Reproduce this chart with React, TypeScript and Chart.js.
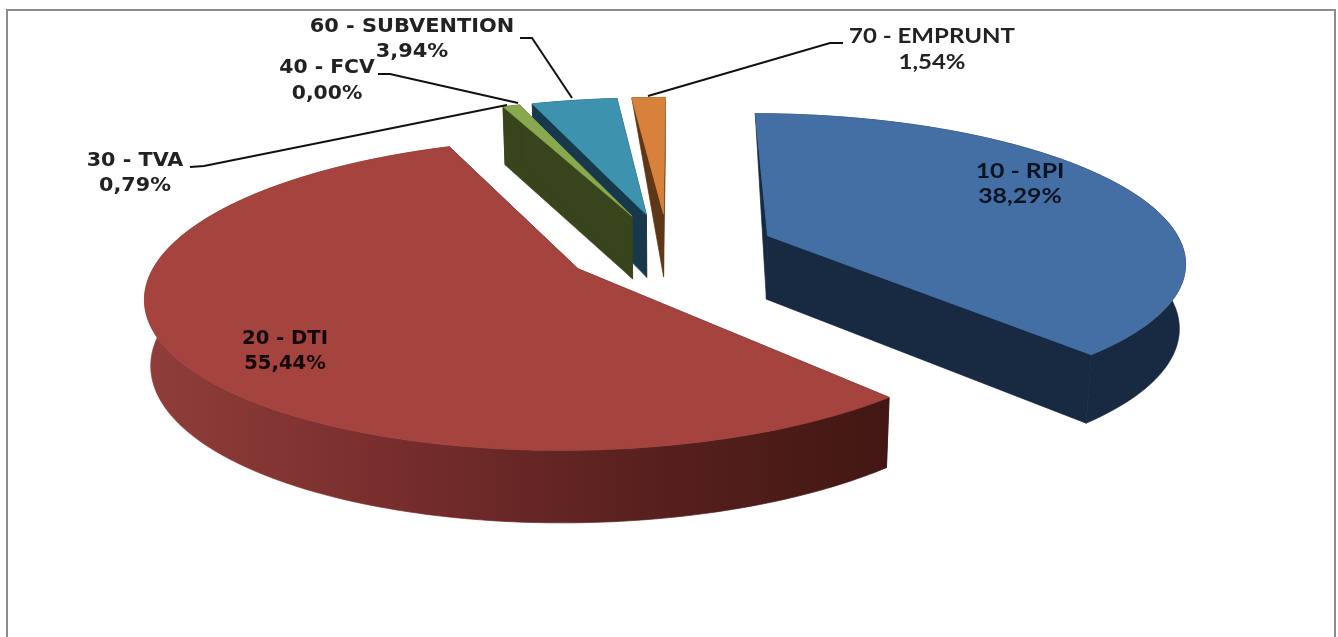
import React, { useEffect, useRef } from "react";
import { Chart, registerables } from "chart.js";

Chart.register(...registerables);

const categories = ["10 - RPI", "20 - DTI", "30 - TVA", "40 - FCV", "60 - SUBVENTION", "70 - EMPRUNT"];
const shares = [38.29, 55.44, 0.79, 0.0, 3.94, 1.54];
const topColors = ["#446fa5", "#a5433f", "#8aa94f", "#7f9a45", "#3d92ae", "#d8813b"];
const wallColors = ["#182a42", "#5e2220", "#38441c", "#38441c", "#17394b", "#5e3716"];
const explode = [52, 50, 50, 50, 50, 50];
const taperedBack = [true, false, false, false, false, true];

// Projection of the pie's disc (perspective, tilted view), as style settings.
const VIEW = { rx: 416, ry: 145.5, persp: 0.16, depth: 64, shrink: 0.012 };

const FONT_WIDE = "bold 19px 'DejaVu Sans'";
const FONT_NARROW = "bold 20px Lato";
const labelStyles = [
  { x: 1020, y: 172, font: FONT_NARROW, gap: 25, sx: 1.24, color: "#0b1220" },
  { x: 285, y: 339, font: FONT_WIDE, gap: 25, sx: 1.03, color: "#12080a" },
  { x: 135, y: 161, font: FONT_WIDE, gap: 25, sx: 1.09, color: "#222" },
  { x: 327, y: 68, font: FONT_WIDE, gap: 26, sx: 1.07, color: "#222" },
  { x: 412, y: 27, font: FONT_WIDE, gap: 25, sx: 1.1, color: "#222" },
  { x: 932, y: 37, font: FONT_NARROW, gap: 26, sx: 1.2, color: "#222" },
];
const leaderStyles = [
  null,
  null,
  [[190, 167], [204, 166], [507, 105]],
  [[378, 74], [390, 74], [518, 103]],
  [[520, 38], [532, 38], [572, 98]],
  [[843, 43], [830, 43], [648, 96]],
];

const pie3d = {
  id: "pie3d",
  beforeDatasetDraw(chart: any) {
    const { ctx } = chart;
    const arcs = chart.getDatasetMeta(0).data;
    const paintOrder = [5, 4, 3, 2, 0, 1];

    const prepare = (arc: any) => {
      const { x, y, startAngle, endAngle, outerRadius, options } = arc;
      const mid = (startAngle + endAngle) / 2;
      const e = options.offset / outerRadius;
      const ex = Math.cos(mid) * e;
      const ey = Math.sin(mid) * e;
      const project = (px: number, py: number, z: number) => {
        const s = 1 / (1 - VIEW.persp * py);
        const d = VIEW.depth * (0.4 + 0.6 * s);
        return [x + VIEW.rx * px * s * (1 - VIEW.shrink * z), y + VIEW.ry * py * s + z * d];
      };
      const steps = Math.max(2, Math.ceil((endAngle - startAngle) * 60));
      const rim: number[][] = [];
      for (let i = 0; i <= steps; i++) {
        const a = startAngle + ((endAngle - startAngle) * i) / steps;
        rim.push([ex + Math.cos(a), ey + Math.sin(a), Math.sin(a)]);
      }
      return { project, rim, apex: [ex, ey] };
    };
    const poly = (pts: number[][], fill: any) => {
      ctx.beginPath();
      pts.forEach((p, i) => (i ? ctx.lineTo(p[0], p[1]) : ctx.moveTo(p[0], p[1])));
      ctx.closePath();
      ctx.fillStyle = fill;
      ctx.strokeStyle = fill;
      ctx.lineWidth = 0.7;
      ctx.fill();
      ctx.stroke();
    };

    ctx.save();
    ctx.filter = "blur(0.5px)";
    for (const i of paintOrder) {
      const arc = arcs[i];
      if (shares[i] === 0) continue;
      const { project, rim, apex } = prepare(arc);
      const P = (p: number[], z: number) => project(p[0], p[1], z);
      const first = rim[0];
      const last = rim[rim.length - 1];
      if (taperedBack[i]) {
        poly([P(apex, 0), P(first, 0), P(apex, 1)], wallColors[i]);
      } else {
        poly([P(apex, 0), P(first, 0), P(first, 1), P(apex, 1)], wallColors[i]);
      }
      poly([P(apex, 0), P(last, 0), P(last, 1), P(apex, 1)], wallColors[i]);
      let wallFill: any = wallColors[i];
      if (i === 1) {
        const g = ctx.createLinearGradient(146, 0, 890, 0);
        g.addColorStop(0, "#8f3e3a");
        g.addColorStop(0.3, "#7a2f2e");
        g.addColorStop(0.65, "#5a211f");
        g.addColorStop(1, "#421713");
        wallFill = g;
      }
      const lower = rim.filter((p) => !taperedBack[i] || p[2] > -0.5);
      poly([...rim.map((p) => P(p, 0)), ...lower.slice().reverse().map((p) => P(p, 1))], wallFill);
      poly([P(apex, 0), ...rim.map((p) => P(p, 0))], topColors[i]);
    }

    // leader lines
    ctx.strokeStyle = "#111";
    ctx.lineWidth = 2;
    leaderStyles.forEach((line) => {
      if (!line) return;
      ctx.beginPath();
      line.forEach((p, i) => (i ? ctx.lineTo(p[0], p[1]) : ctx.moveTo(p[0], p[1])));
      ctx.stroke();
    });

    // data labels
    ctx.textAlign = "center";
    ctx.textBaseline = "middle";
    categories.forEach((name, i) => {
      const st = labelStyles[i];
      ctx.save();
      ctx.font = st.font;
      ctx.fillStyle = st.color;
      ctx.translate(st.x, st.y);
      ctx.scale(st.sx, 1);
      ctx.fillText(name, 0, 0);
      ctx.fillText(shares[i].toFixed(2).replace(".", ",") + "%", 0, st.gap);
      ctx.restore();
    });

    // outer chart frame
    ctx.strokeStyle = "#8c8c8c";
    ctx.lineWidth = 2;
    ctx.beginPath();
    ctx.moveTo(7, 640);
    ctx.lineTo(7, 10);
    ctx.lineTo(1335, 10);
    ctx.lineTo(1335, 640);
    ctx.stroke();
    ctx.restore();
    return false;
  },
};

export default function App() {
  const ref = useRef<HTMLCanvasElement>(null);
  useEffect(() => {
    const chart = new Chart(ref.current as HTMLCanvasElement, {
      type: "pie",
      data: {
        labels: categories,
        datasets: [{ data: shares, backgroundColor: topColors, offset: explode, borderWidth: 0 }],
      },
      options: {
        animation: false,
        responsive: false,
        rotation: 0.2,
        radius: 200,
        layout: { padding: { right: 2, bottom: 139 } },
        plugins: { legend: { display: false }, tooltip: { enabled: false } },
      },
      plugins: [pie3d],
    } as any);
    return () => chart.destroy();
  }, []);
  return (
    <div style={{ position: "fixed", left: 0, top: 0, width: 1338, height: 637, background: "#fff" }}>
      <canvas ref={ref} width={1338} height={637} style={{ display: "block" }} />
    </div>
  );
}
